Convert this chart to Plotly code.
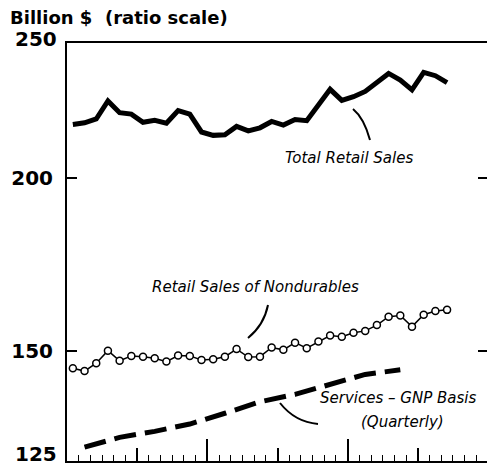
import math
import plotly.graph_objects as go

# ---- data ----
month_index = list(range(33))  # monthly observations, 3-year axis of 36 months
total_retail = [218.4, 219.0, 220.4, 227.1, 222.7, 222.2, 219.2, 219.9, 218.9, 223.5,
                222.2, 215.7, 214.5, 214.7, 217.7, 216.1, 217.2, 219.5, 218.2, 220.2,
                219.8, 225.6, 231.5, 227.3, 228.7, 230.7, 234.3, 237.7, 235.1, 231.3,
                238.1, 236.8, 234.1]
nondurables = [145.8, 145.1, 147.0, 150.1, 147.6, 148.8, 148.6, 148.2, 147.4, 148.9,
               148.8, 147.8, 148.0, 148.6, 150.5, 148.5, 148.6, 150.9, 150.3, 152.1,
               150.7, 152.4, 153.9, 153.6, 154.6, 155.1, 156.6, 158.8, 159.1, 156.2,
               159.3, 160.3, 160.6]
quarter_index = list(range(10))
services = [127.9, 130.0, 131.3, 132.9, 135.3, 137.9, 139.6, 141.9, 144.3, 145.4]
y_tick_values = [125, 150, 200, 250]
y_tick_labels = ["125", "150", "200", "250"]

x_month = [m + 0.5 for m in month_index]
x_quarter = [3 * q + 1.5 for q in quarter_index]

fig = go.Figure()
fig.add_trace(go.Scatter(x=x_month, y=total_retail, mode="lines",
                         line=dict(color="black", width=5), hoverinfo="skip"))
fig.add_trace(go.Scatter(x=x_month, y=nondurables, mode="lines+markers",
                         line=dict(color="black", width=1.5),
                         marker=dict(symbol="circle", size=7, color="white",
                                     line=dict(color="black", width=1.5)),
                         hoverinfo="skip"))
fig.add_trace(go.Scatter(x=x_quarter, y=services, mode="lines", xaxis="x2",
                         line=dict(color="black", width=5, dash="22px,9px"),
                         hoverinfo="skip"))

# page body has an 8px margin; figure is placed at (8, 8)
OFF = 8
W, H = 487, 457
L, T = 59, 35
R = W - (488 - OFF)
B = H - (461 - OFF)
pw, ph = W - L - R, H - T - B


def px(page_x, page_y):
    return (page_x - OFF - L) / pw, (H - B - (page_y - OFF)) / ph


tick_font = dict(family="DejaVu Sans", size=20, weight="bold", color="black")
# end labels (125, 250) sit at the plot corners and are nudged inward, as in the reference
inner_text = [t if v not in (min(y_tick_values), max(y_tick_values)) else ""
              for v, t in zip(y_tick_values, y_tick_labels)]

fig.update_layout(
    width=W, height=H, margin=dict(l=L, r=R, t=T, b=B, autoexpand=False),
    paper_bgcolor="white", plot_bgcolor="white", showlegend=False,
    font=dict(family="DejaVu Sans", color="black"),
    xaxis=dict(range=[0, 36], showgrid=False, zeroline=False, showline=True,
               linecolor="black", linewidth=2, mirror=True, automargin=False,
               ticks="inside", tickmode="linear", tick0=0, dtick=6, ticklen=13,
               tickwidth=1.5, tickcolor="black", showticklabels=False,
               minor=dict(ticks="inside", tick0=0, dtick=1, ticklen=6,
                          tickwidth=1, tickcolor="black")),
    xaxis2=dict(range=[0, 36], overlaying="x", anchor="y", side="bottom",
                showgrid=False, zeroline=False, showline=False, automargin=False,
                ticks="inside", tickmode="linear", tick0=0, dtick=12, ticklen=22,
                tickwidth=1.5, tickcolor="black", showticklabels=False),
    yaxis=dict(type="log", range=[math.log10(125), math.log10(250)],
               showgrid=False, zeroline=False, showline=True, linecolor="black",
               linewidth=2, mirror="ticks", ticks="inside", ticklen=10,
               tickwidth=1.5, tickcolor="black", tickmode="array",
               tickvals=y_tick_values, ticktext=inner_text,
               ticklabeloverflow="allow", automargin=False,
               tickfont=tick_font, ticklabelstandoff=8),
)

for v, t in zip(y_tick_values, y_tick_labels):
    if v == min(y_tick_values):
        fig.add_annotation(text=t, xref="paper", yref="y", x=0, y=math.log10(v),
                           xanchor="right", yanchor="middle", xshift=-8, yshift=7,
                           showarrow=False, font=tick_font)
    elif v == max(y_tick_values):
        fig.add_annotation(text=t, xref="paper", yref="y", x=0, y=math.log10(v),
                           xanchor="right", yanchor="middle", xshift=-8, yshift=4,
                           showarrow=False, font=tick_font)

# title
tx, ty = px(8, 17)
fig.add_annotation(text="Billion $  (ratio scale)", xref="paper", yref="paper",
                   x=tx, y=ty, xanchor="left", yanchor="middle", showarrow=False,
                   font=dict(family="DejaVu Sans", size=18, weight="bold", color="black"))

lab_font = dict(family="DejaVu Sans", size=15, style="italic", color="black")
for text, cx, cy in [("Total Retail Sales", 349, 158),
                     ("Retail Sales of Nondurables", 255, 287),
                     ("Services – GNP Basis", 398, 398),
                     ("(Quarterly)", 402, 422)]:
    xp, yp = px(cx, cy)
    fig.add_annotation(text=text, xref="paper", yref="paper", x=xp, y=yp,
                       xanchor="center", yanchor="middle", showarrow=False,
                       font=lab_font)

# leader lines
for (a, c, b) in [((353, 109), (364, 118), (370, 140)),
                  ((268, 305), (264, 325), (248, 338)),
                  ((280, 403), (295, 422), (318, 424))]:
    a0, a1 = px(*a)
    c0, c1 = px(*c)
    b0, b1 = px(*b)
    fig.add_shape(type="path", xref="paper", yref="paper",
                  path=f"M {a0},{a1} Q {c0},{c1} {b0},{b1}",
                  line=dict(color="black", width=2))

fig.write_html("out.html")
